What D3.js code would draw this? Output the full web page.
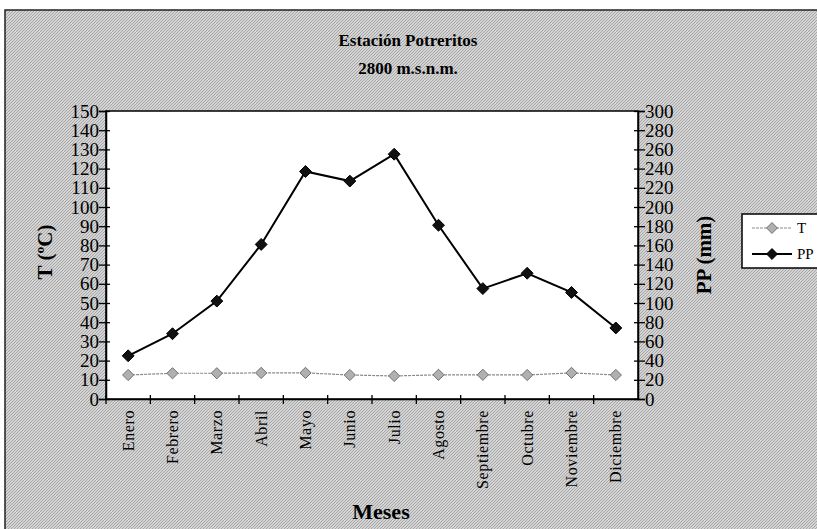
<!DOCTYPE html>
<html>
<head>
<meta charset="utf-8">
<script src="https://cdn.jsdelivr.net/npm/d3@7"></script>
<style>
  body { margin: 0; background: #fff; }
  svg text { font-family: "Liberation Serif", "Times New Roman", serif; fill: #000; }
</style>
</head>
<body>
<script>
// data
const meses = ["Enero", "Febrero", "Marzo", "Abril", "Mayo", "Junio", "Julio",
               "Agosto", "Septiembre", "Octubre", "Noviembre", "Diciembre"];
const temp = [12.5, 13.4, 13.4, 13.6, 13.6, 12.5, 12, 12.6, 12.6, 12.5, 13.6, 12.5];   // T (ºC)
const precip = [45, 68, 102, 161, 237, 227, 255, 181, 115, 131, 111, 74];             // PP (mm)
const tTicks = d3.range(0, 151, 10);
const ppTicks = d3.range(0, 301, 20);

const W = 817, H = 529;
const plot = {left: 106, top: 111, right: 638, bottom: 399};

const svg = d3.select("body").append("svg")
    .attr("width", W)
    .attr("height", H);

// grey dither of the old chart background
let defs = svg.append("defs");
let pat = defs.append("pattern")
    .attr("id", "hatch")
    .attr("width", 3).attr("height", 3)
    .attr("patternUnits", "userSpaceOnUse");
pat.append("rect").attr("width", 3).attr("height", 3).attr("fill", "#d4d4d4");
pat.append("path").attr("d", "M0,3 L3,0").attr("stroke", "#9c9c9c").attr("stroke-width", 0.8);

svg.append("rect")
    .attr("x", 5).attr("y", 10)
    .attr("width", W).attr("height", H)
    .attr("fill", "url(#hatch)")
    .attr("stroke", "#222").attr("stroke-width", 1.5);

// scales
let x = d3.scaleBand().domain(meses).range([plot.left, plot.right]);
let yT = d3.scaleLinear().domain([0, 150]).range([plot.bottom, plot.top]);
let yP = d3.scaleLinear().domain([0, 300]).range([plot.bottom, plot.top]);

svg.append("rect")
    .attr("x", plot.left).attr("y", plot.top)
    .attr("width", plot.right - plot.left).attr("height", plot.bottom - plot.top)
    .attr("fill", "#fff").attr("stroke", "#000").attr("stroke-width", 1.5);

// left axis
let axL = svg.append("g")
    .attr("transform", "translate(" + plot.left + ",0)")
    .call(d3.axisLeft(yT).tickValues(tTicks).tickSize(7).tickPadding(0));
axL.selectAll("line").attr("x2", -7).attr("x1", 4);
axL.selectAll("text").style("font-size", "19px");

// right axis
let axR = svg.append("g")
    .attr("transform", "translate(" + plot.right + ",0)")
    .call(d3.axisRight(yP).tickValues(ppTicks).tickSize(7).tickPadding(0));
axR.selectAll("line").attr("x1", -4);
axR.selectAll("text").style("font-size", "19px");

// bottom axis: ticks sit between months
let axB = svg.append("g")
    .attr("transform", "translate(0," + plot.bottom + ")")
    .call(d3.axisBottom(x).tickSize(0).tickPadding(0));
axB.selectAll(".tick").append("line")
    .attr("x1", -x.bandwidth() / 2).attr("x2", -x.bandwidth() / 2)
    .attr("y1", -4).attr("y2", 5)
    .attr("stroke", "#000");
axB.selectAll("text")
    .attr("transform", "rotate(-90)")
    .attr("x", -11).attr("y", 0).attr("dy", "0.35em")
    .attr("text-anchor", "end")
    .style("font-size", "16px")
    .style("letter-spacing", "0.6px");

[axL, axR, axB].forEach(a => {
    a.select(".domain").attr("stroke", "#000").attr("stroke-width", 1.5);
    a.selectAll("line").attr("stroke", "#000").attr("stroke-width", 1.3);
    a.selectAll("text").attr("fill", "#000");
});

let cx = d => x(d) + x.bandwidth() / 2;
let diamond = d3.symbol().type(d3.symbolDiamond2);

// T series (grey, dashed)
svg.append("path")
    .datum(temp)
    .attr("fill", "none")
    .attr("stroke", "#8a8a8a")
    .attr("stroke-width", 1.2)
    .attr("stroke-dasharray", "3,1")
    .attr("d", d3.line().x((d, i) => cx(meses[i])).y(d => yT(d)));
svg.selectAll(".mt").data(temp).enter().append("path")
    .attr("class", "mt")
    .attr("transform", (d, i) => "translate(" + cx(meses[i]) + "," + yT(d) + ")")
    .attr("d", diamond.size(80))
    .attr("fill", "#b0b0b0").attr("stroke", "#707070").attr("stroke-width", 1);

// PP series (black)
svg.append("path")
    .datum(precip)
    .attr("fill", "none")
    .attr("stroke", "#000")
    .attr("stroke-width", 2)
    .attr("d", d3.line().x((d, i) => cx(meses[i])).y(d => yP(d)));
svg.selectAll(".mp").data(precip).enter().append("path")
    .attr("class", "mp")
    .attr("transform", (d, i) => "translate(" + cx(meses[i]) + "," + yP(d) + ")")
    .attr("d", diamond.size(90))
    .attr("fill", "#111").attr("stroke", "#000").attr("stroke-width", 1);

// titles
svg.append("text").attr("x", 408).attr("y", 46)
    .attr("text-anchor", "middle").style("font-size", "17px").style("font-weight", "bold")
    .text("Estación Potreritos");
svg.append("text").attr("x", 408).attr("y", 74)
    .attr("text-anchor", "middle").style("font-size", "17px").style("font-weight", "bold")
    .text("2800 m.s.n.m.");
svg.append("text").attr("transform", "translate(52,252) rotate(-90)")
    .attr("text-anchor", "middle").style("font-size", "21px").style("font-weight", "bold")
    .text("T (ºC)");
svg.append("text").attr("transform", "translate(711,255) rotate(-90)")
    .attr("text-anchor", "middle").style("font-size", "21px").style("font-weight", "bold")
    .text("PP (mm)");
svg.append("text").attr("x", 381).attr("y", 519)
    .attr("text-anchor", "middle").style("font-size", "22px").style("font-weight", "bold")
    .text("Meses");

// legend
let leg = svg.append("g").attr("transform", "translate(742,214)");
leg.append("rect").attr("width", 90).attr("height", 54)
    .attr("fill", "#fff").attr("stroke", "#000").attr("stroke-width", 1.5);
let items = [
    {name: "T", dash: "3,1", line: "#8a8a8a", fill: "#b0b0b0", stroke: "#707070", w: 1.2},
    {name: "PP", dash: null, line: "#000", fill: "#111", stroke: "#000", w: 2}
];
items.forEach((it, i) => {
    let yy = 14 + i * 26;
    leg.append("line").attr("x1", 10).attr("x2", 50).attr("y1", yy).attr("y2", yy)
        .attr("stroke", it.line).attr("stroke-width", it.w)
        .attr("stroke-dasharray", it.dash);
    leg.append("path").attr("transform", "translate(30," + yy + ")")
        .attr("d", diamond.size(75)).attr("fill", it.fill).attr("stroke", it.stroke);
    leg.append("text").attr("x", 55).attr("y", yy).attr("dy", "0.35em")
        .style("font-size", "15px").text(it.name);
});
</script>
</body>
</html>
